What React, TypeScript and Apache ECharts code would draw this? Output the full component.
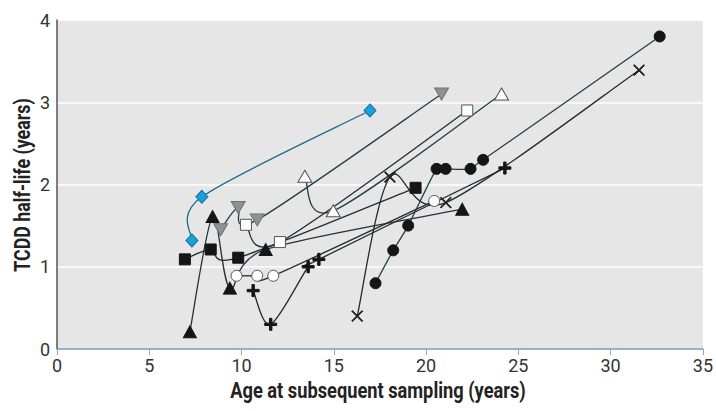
import React, { useEffect, useRef } from "react";
import * as echarts from "echarts";

// Data: [age at subsequent sampling (years), TCDD half-life (years)]
const blueDiamond: number[][] = [[7.31, 1.32], [7.85, 1.85], [16.96, 2.9]];
const blackTriangle: number[][] = [[7.2, 0.21], [8.43, 1.61], [9.37, 0.74], [11.31, 1.21], [21.96, 1.7]];
const blackSquare: number[][] = [[6.93, 1.09], [8.33, 1.21], [9.82, 1.11], [19.43, 1.96]];
const whiteSquare: number[][] = [[10.24, 1.51], [12.08, 1.3], [22.23, 2.9]];
const grayTriangle: number[][] = [[8.87, 1.45], [9.82, 1.72], [10.85, 1.57], [20.84, 3.1]];
const whiteTriangle: number[][] = [[13.43, 2.1], [14.97, 1.68], [24.09, 3.1]];
const whiteCircle: number[][] = [[9.73, 0.89], [10.85, 0.89], [11.72, 0.89], [20.44, 1.8]];
const plusMark: number[][] = [[10.63, 0.71], [11.58, 0.3], [13.61, 1.0], [14.19, 1.09], [24.27, 2.2]];
const crossMark: number[][] = [[16.27, 0.4], [18.04, 2.09], [21.07, 1.78], [31.54, 3.39]];
const blackCircle: number[][] = [
  [17.26, 0.8], [18.22, 1.2], [19.03, 1.5], [20.57, 2.19], [21.06, 2.19], [22.41, 2.19], [23.09, 2.3], [32.66, 3.8],
];

const xTitle = "Age at subsequent sampling (years)";
const yTitle = "TCDD half-life (years)";

const PLUS = "path://M4,0H6V4H10V6H6V10H4V6H0V4H4Z";
const CROSS = "path://M0.7,0L5,4.3L9.3,0L10,0.7L5.7,5L10,9.3L9.3,10L5,5.7L0.7,10L0,9.3L4.3,5L0,0.7Z";

type Spec = {
  name: string;
  data: number[][];
  symbol: string;
  size: number | number[];
  rotate?: number;
  fill: string;
  border: string;
  line: string;
};

const specs: Spec[] = [
  { name: "blueDiamond", data: blueDiamond, symbol: "diamond", size: [12, 13], fill: "#1aa0dc", border: "#17709a", line: "#1f6a8c" },
  { name: "blackTriangle", data: blackTriangle, symbol: "triangle", size: [13, 12], fill: "#151515", border: "#151515", line: "#22333b" },
  { name: "blackSquare", data: blackSquare, symbol: "rect", size: 11, fill: "#151515", border: "#151515", line: "#262b2e" },
  { name: "grayTriangle", data: grayTriangle, symbol: "triangle", size: [14, 12], rotate: 180, fill: "#8f9293", border: "#6f7273", line: "#1f3f4d" },
  { name: "whiteCircle", data: whiteCircle, symbol: "circle", size: 11, fill: "#ffffff", border: "#555", line: "#262b2e" },
  { name: "plusMark", data: plusMark, symbol: PLUS, size: 12, fill: "#151515", border: "#151515", line: "#262b2e" },
  { name: "crossMark", data: crossMark, symbol: CROSS, size: 11, fill: "#222", border: "#222", line: "#262b2e" },
  { name: "blackCircle", data: blackCircle, symbol: "circle", size: 11, fill: "#151515", border: "#151515", line: "#1f3f4d" },
  { name: "whiteTriangle", data: whiteTriangle, symbol: "triangle", size: [14, 12], fill: "#ffffff", border: "#555", line: "#1f3f4d" },
  { name: "whiteSquare", data: whiteSquare, symbol: "rect", size: 11, fill: "#ffffff", border: "#555", line: "#262b2e" },
];

const FONT = "Roboto, 'Liberation Sans', sans-serif";

// Catmull-Rom style smooth curve through the points, one bezier segment per data item
function smoothRenderer(pts: number[][], color: string) {
  const K = 0.15;
  return (params: any, api: any) => {
    const i = params.dataIndex;
    if (i >= pts.length - 1) return null;
    const P = (j: number) => {
      const jj = Math.max(0, Math.min(pts.length - 1, j));
      return api.coord(pts[jj]);
    };
    const p0 = P(i - 1);
    const p1 = P(i);
    const p2 = P(i + 1);
    const p3 = P(i + 2);
    return {
      type: "bezierCurve",
      shape: {
        x1: p1[0],
        y1: p1[1],
        cpx1: p1[0] + (p2[0] - p0[0]) * K,
        cpy1: p1[1] + (p2[1] - p0[1]) * K,
        cpx2: p2[0] - (p3[0] - p1[0]) * K,
        cpy2: p2[1] - (p3[1] - p1[1]) * K,
        x2: p2[0],
        y2: p2[1],
      },
      style: { stroke: color, lineWidth: 1.3, fill: "none" },
      silent: true,
    };
  };
}

export default function App() {
  const ref = useRef<HTMLDivElement>(null);
  useEffect(() => {
    if (!ref.current) return;
    const chart = echarts.init(ref.current, undefined, { renderer: "svg" });
    const series: any[] = [];
    specs.forEach((s) => {
      series.push({
        type: "custom",
        name: s.name + "-line",
        data: s.data,
        renderItem: smoothRenderer(s.data, s.line),
        clip: true,
        z: 2,
        silent: true,
      });
    });
    specs.forEach((s) => {
      series.push({
        type: "scatter",
        name: s.name,
        data: s.data,
        symbol: s.symbol,
        symbolSize: s.size,
        symbolRotate: s.rotate || 0,
        itemStyle: { color: s.fill, borderColor: s.border, borderWidth: 1, opacity: 1 },
        z: 3,
        silent: true,
      });
    });
    chart.setOption({
      animation: false,
      backgroundColor: "#ffffff",
      grid: {
        left: 57,
        right: 13,
        top: 20,
        bottom: 62,
        show: true,
        backgroundColor: "#e6e6e6",
        borderWidth: 0,
      },
      xAxis: {
        type: "value",
        min: 0,
        max: 35,
        interval: 5,
        axisLine: { show: true, onZero: false, lineStyle: { color: "#6f9fb8", width: 1.5 } },
        axisTick: { show: true, length: 6, lineStyle: { color: "#9aa4a8", width: 1 } },
        axisLabel: { fontFamily: FONT, fontSize: 18, color: "#333", margin: 7 },
        splitLine: { show: false },
      },
      yAxis: {
        type: "value",
        min: 0,
        max: 4,
        interval: 1,
        axisLine: { show: true, lineStyle: { color: "#555", width: 1.5 } },
        axisTick: { show: false },
        axisLabel: { fontFamily: FONT, fontSize: 18, color: "#333", margin: 7 },
        splitLine: { show: true, lineStyle: { color: "#ffffff", width: 1.5 } },
      },
      graphic: [
        {
          type: "text",
          x: 378,
          y: 390,
          scaleX: 0.83,
          style: {
            text: xTitle,
            fontFamily: FONT,
            fontWeight: "bold",
            fontSize: 22,
            fill: "#222",
            align: "center",
            verticalAlign: "middle",
          },
        },
        {
          type: "text",
          x: 22,
          y: 185,
          rotation: Math.PI / 2,
          scaleX: 0.81,
          style: {
            text: yTitle,
            fontFamily: FONT,
            fontWeight: "bold",
            fontSize: 22,
            fill: "#222",
            align: "center",
            verticalAlign: "middle",
          },
        },
      ],
      series,
    });
    return () => chart.dispose();
  }, []);
  return (
    <div
      ref={ref}
      style={{ position: "fixed", left: 0, top: 0, width: 716, height: 411, background: "#fff" }}
    />
  );
}
